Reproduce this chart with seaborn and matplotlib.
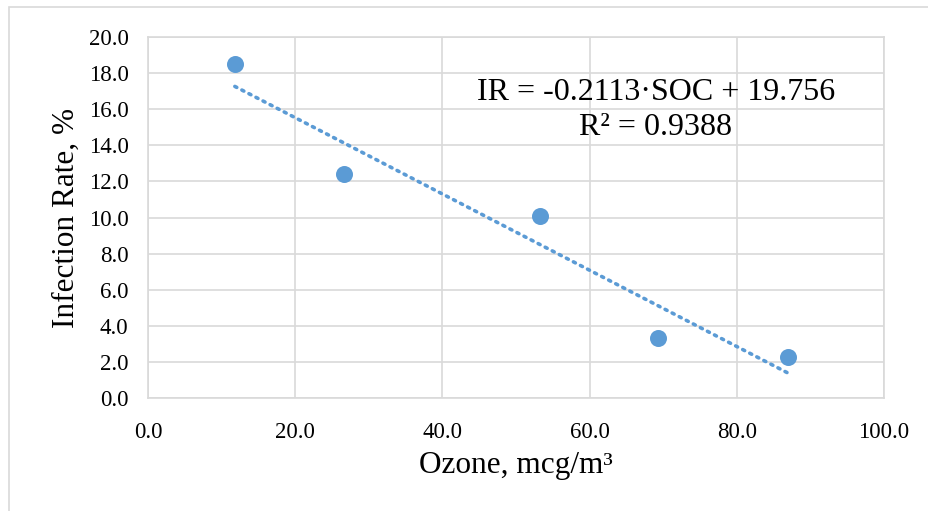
import numpy as np
import pandas as pd
import matplotlib
matplotlib.use("Agg")
import matplotlib.pyplot as plt
import seaborn as sns
from matplotlib.patches import Rectangle

# values
ozone = [11.8, 26.6, 53.2, 69.3, 86.9]
infection_rate = [18.5, 12.4, 10.1, 3.3, 2.3]
trend_slope = -0.2113
trend_intercept = 19.756
r_squared = 0.9388
x_ticks = [0, 20, 40, 60, 80, 100]
y_ticks = [0, 2, 4, 6, 8, 10, 12, 14, 16, 18, 20]

df = pd.DataFrame({"ozone": ozone, "ir": infection_rate})

sns.set_style("white")
plt.rcParams["font.family"] = ["Liberation Serif", "DejaVu Serif"]
plt.rcParams["text.color"] = "black"
plt.rcParams["axes.labelcolor"] = "black"

blue = "#5B9BD5"
grid_c = "#D9D9D9"

fig = plt.figure(figsize=(9.29, 5.11), dpi=100)
ax = fig.add_axes([0.1593, 0.2211, 0.7923, 0.7065])

# outer chart border (left + top)
fig.patches.append(Rectangle((9 / 929, -0.1), 1.2, 1 - 7 / 511 + 0.1,
                             transform=fig.transFigure, fill=False,
                             edgecolor=grid_c, linewidth=1.2))

# trendline from the stated equation over the data range
tx = np.array([min(ozone), max(ozone)])
sns.lineplot(x=tx, y=trend_slope * tx + trend_intercept, ax=ax,
             color=blue, linestyle=(0, (0.6, 1.6)), linewidth=2.6,
             dash_capstyle="round", zorder=2)

sns.scatterplot(data=df, x="ozone", y="ir", ax=ax, color=blue, s=150,
                edgecolor=blue, linewidth=0, zorder=3)

ax.set_xlim(0, 100)
ax.set_ylim(0, 20)
ax.set_xticks(x_ticks)
ax.set_yticks(y_ticks)
ax.set_xticklabels([f"{v:.1f}" for v in x_ticks])
ax.set_yticklabels([f"{v:.1f}" for v in y_ticks])
ax.tick_params(axis="both", labelsize=16.5, length=0, colors="black")
ax.tick_params(axis="x", pad=17)
ax.tick_params(axis="y", pad=14)
ax.grid(True, color=grid_c, linewidth=1.2)
ax.set_axisbelow(True)
for s in ax.spines.values():
    s.set_color(grid_c)
    s.set_linewidth(1.2)

ax.set_xlabel("Ozone, mcg/m³", fontsize=22.5, labelpad=6)
ax.set_ylabel("Infection Rate, %", fontsize=22.5, labelpad=6)

ax.text(69.0, 16.95, f"IR = {trend_slope}·SOC + {trend_intercept}",
        fontsize=23, ha="center", va="center")
ax.text(69.0, 14.96, f"R² = {r_squared}", fontsize=23, ha="center", va="center")

fig.savefig("out.png", dpi=100)
